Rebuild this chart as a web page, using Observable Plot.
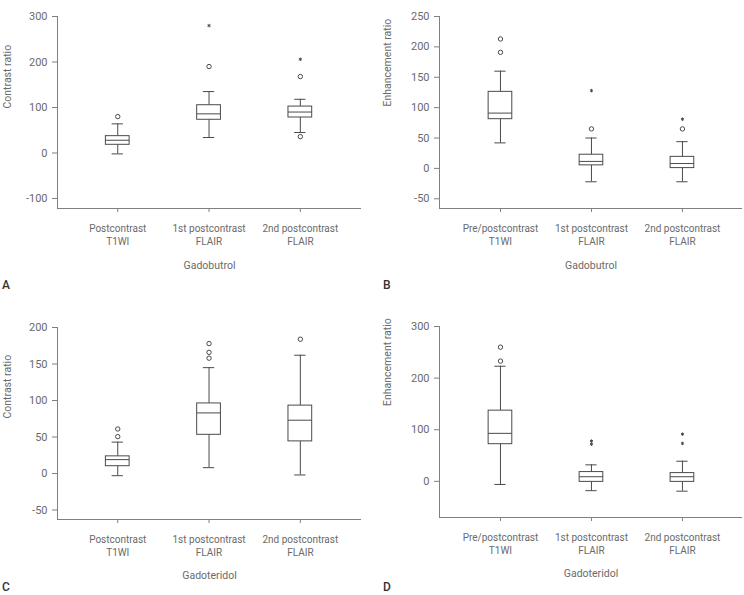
<!DOCTYPE html>
<html>
<head>
<meta charset="utf-8">
<script src="https://cdn.jsdelivr.net/npm/d3@7"></script>
<script src="https://cdn.jsdelivr.net/npm/@observablehq/plot@0.6"></script>
<style>
  html, body { margin: 0; padding: 0; background: #fff; }
  #wrap { position: relative; width: 744px; height: 595px; overflow: hidden; background: #fff; }
  .panel { position: absolute; width: 372px; height: 300px; }
  .letter { position: absolute; font-family: Roboto, "Noto Sans", sans-serif; font-size: 12px; font-weight: 500; color: #333; line-height: 13px; }
</style>
</head>
<body>
<div id="wrap">
  <div class="panel" id="pA" style="left:0;top:0"></div>
  <div class="panel" id="pB" style="left:372px;top:0"></div>
  <div class="panel" id="pC" style="left:0;top:300px"></div>
  <div class="panel" id="pD" style="left:372px;top:300px"></div>
  <div class="letter" style="left:2px;top:279px">A</div>
  <div class="letter" style="left:383px;top:279px">B</div>
  <div class="letter" style="left:2px;top:581px">C</div>
  <div class="letter" style="left:383px;top:581px">D</div>
</div>
<script>
// Categories
const catsContrast = ["Postcontrast\nT1WI", "1st postcontrast\nFLAIR", "2nd postcontrast\nFLAIR"];
const catsEnhance = ["Pre/postcontrast\nT1WI", "1st postcontrast\nFLAIR", "2nd postcontrast\nFLAIR"];

// Panel A: Gadobutrol, contrast ratio
const aLow = [-2, 34, 45];
const aQ1 = [18, 73, 78];
const aMed = [28, 86, 90];
const aQ3 = [37, 105, 102];
const aHigh = [64, 135, 118];
const aCircles = [[80], [190], [168, 36]];
const aStars = [[], [280], [206]];
const aTicks = [-100, 0, 100, 200, 300];

// Panel B: Gadobutrol, enhancement ratio
const bLow = [42, -22, -22];
const bQ1 = [81, 5, 0.5];
const bMed = [91, 11.5, 8];
const bQ3 = [126, 22.5, 19];
const bHigh = [160, 50, 44];
const bCircles = [[213, 191], [65], [65]];
const bStars = [[], [128], [81]];
const bTicks = [-50, 0, 50, 100, 150, 200, 250];

// Panel C: Gadoteridol, contrast ratio
const cLow = [-3, 8, -2];
const cQ1 = [10, 53, 44];
const cMed = [19, 83, 73];
const cQ3 = [23.5, 96, 93];
const cHigh = [43, 145, 162];
const cCircles = [[50.5, 61], [158, 166, 178], [184]];
const cStars = [[], [], []];
const cTicks = [-50, 0, 50, 100, 150, 200];

// Panel D: Gadoteridol, enhancement ratio
const dLow = [-6, -18, -19];
const dQ1 = [72, -1, -1];
const dMed = [93, 9, 9];
const dQ3 = [137, 18, 16];
const dHigh = [223, 32, 39];
const dCircles = [[260, 233], [], []];
const dStars = [[], [72, 78], [73.5, 91.5]];
const dTicks = [0, 100, 200, 300];

const BOX = "#4a4a4a";
const AXIS = "#808080";
const TXT = "#6a6a6a";

function panel(o) {
  const rows = o.cats.map((c, i) => ({i, low: o.low[i], q1: o.q1[i], med: o.med[i], q3: o.q3[i], high: o.high[i]}));
  const circ = o.circles.flatMap((arr, i) => arr.map(v => ({i, v})));
  const st = o.stars.flatMap((arr, i) => arr.map(v => ({i, v})));
  const hw = 0.13, cw = 0.062;
  const xd = o.xDomain;
  return Plot.plot({
    width: 372, height: 300,
    marginLeft: o.ml, marginRight: o.mr, marginTop: o.mt, marginBottom: o.mb,
    style: {fontFamily: "Roboto, 'Noto Sans', sans-serif", fontSize: "10px", color: TXT, background: "transparent", overflow: "visible"},
    x: {domain: xd},
    y: {domain: o.yDomain},
    marks: [
      Plot.axisY({ticks: o.yTicks, tickFormat: d => String(d), tickSize: 5, tickPadding: 5, label: null, fontSize: 11, stroke: AXIS, fill: TXT}),
      Plot.axisX({ticks: [0, 1, 2], tickFormat: i => o.cats[i], tickSize: 4, tickPadding: 10, label: null, lineHeight: 1.33, stroke: AXIS, fill: TXT}),
      Plot.ruleX([xd[0]], {stroke: AXIS}),
      Plot.ruleY([o.yDomain[0]], {stroke: AXIS}),
      Plot.ruleX(rows, {x: "i", y1: "low", y2: "q1", stroke: BOX}),
      Plot.ruleX(rows, {x: "i", y1: "q3", y2: "high", stroke: BOX}),
      Plot.rectY(rows, {x1: d => d.i - hw, x2: d => d.i + hw, y1: "q1", y2: "q3", fill: "white", stroke: BOX}),
      Plot.ruleY(rows, {y: "med", x1: d => d.i - hw, x2: d => d.i + hw, stroke: BOX}),
      Plot.ruleY(rows, {y: "low", x1: d => d.i - cw, x2: d => d.i + cw, stroke: BOX}),
      Plot.ruleY(rows, {y: "high", x1: d => d.i - cw, x2: d => d.i + cw, stroke: BOX}),
      Plot.dot(circ, {x: "i", y: "v", r: 2.2, stroke: BOX, strokeWidth: 1}),
      Plot.dot(st, {x: "i", y: "v", symbol: "asterisk", r: 1.6, stroke: BOX, strokeWidth: 1}),
      Plot.text([o.yLabel], {frameAnchor: "left", dx: o.yLabelDx, dy: o.yLabelDy, rotate: -90, fontSize: 10.5, fill: TXT}),
      Plot.text([o.xLabel], {frameAnchor: "bottom", dy: o.xLabelDy, fontSize: 10.5, fill: TXT})
    ]
  });
}

document.getElementById("pA").append(panel({
  cats: catsContrast, low: aLow, q1: aQ1, med: aMed, q3: aQ3, high: aHigh, circles: aCircles, stars: aStars,
  yDomain: [-122, 300], yTicks: aTicks, xDomain: [-0.66, 2.67],
  ml: 57, mr: 11, mt: 16, mb: 92,
  yLabel: "Contrast ratio", yLabelDx: -50, yLabelDy: -4,
  xLabel: "Gadobutrol", xLabelDy: 60
}));
document.getElementById("pB").append(panel({
  cats: catsEnhance, low: bLow, q1: bQ1, med: bMed, q3: bQ3, high: bHigh, circles: bCircles, stars: bStars,
  yDomain: [-66, 250], yTicks: bTicks, xDomain: [-0.67, 2.66],
  ml: 67, mr: 2, mt: 16, mb: 92,
  yLabel: "Enhancement ratio", yLabelDx: -52, yLabelDy: -6,
  xLabel: "Gadobutrol", xLabelDy: 60
}));
document.getElementById("pC").append(panel({
  cats: catsContrast, low: cLow, q1: cQ1, med: cMed, q3: cQ3, high: cHigh, circles: cCircles, stars: cStars,
  yDomain: [-63, 200], yTicks: cTicks, xDomain: [-0.66, 2.67],
  ml: 57, mr: 11, mt: 27, mb: 81,
  yLabel: "Contrast ratio", yLabelDx: -50, yLabelDy: -5,
  xLabel: "Gadoteridol", xLabelDy: 59
}));
document.getElementById("pD").append(panel({
  cats: catsEnhance, low: dLow, q1: dQ1, med: dMed, q3: dQ3, high: dHigh, circles: dCircles, stars: dStars,
  yDomain: [-70, 300], yTicks: dTicks, xDomain: [-0.67, 2.66],
  ml: 67, mr: 2, mt: 26, mb: 83,
  yLabel: "Enhancement ratio", yLabelDx: -52, yLabelDy: -16,
  xLabel: "Gadoteridol", xLabelDy: 59
}));
</script>
</body>
</html>
